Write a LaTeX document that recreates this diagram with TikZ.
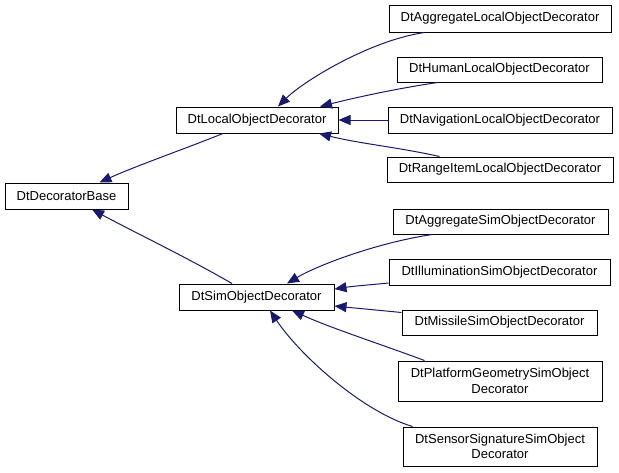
\documentclass[tikz,border=0pt]{standalone}
\usepackage{fontspec}
\setmainfont{Liberation Sans}
\usetikzlibrary{arrows.meta}
\definecolor{edgeBlue}{HTML}{191970}
\tikzset{
  klass/.style={draw=black, line width=1pt, fill=white, inner sep=0pt,
    align=center, font=\fontsize{13}{15.5}\selectfont},
  inherit/.style={edgeBlue, line width=1pt, -{Triangle[length=12pt,width=10pt]}},
}

\begin{document}
\begin{tikzpicture}[x=1pt, y=-1pt]
  \useasboundingbox (0,0) rectangle (619,472);
  % base y padres
  \node[klass, minimum width=123pt, minimum height=26pt] (base) at (66.5,196) {DtDecoratorBase};
  \node[klass, minimum width=162pt, minimum height=26pt] (local) at (257,120) {DtLocalObjectDecorator};
  \node[klass, minimum width=155pt, minimum height=26pt] (sim) at (256.5,297) {DtSimObjectDecorator};
  % hijos de local
  \node[klass, minimum width=222pt, minimum height=27pt] (aggL) at (500,18.5) {DtAggregateLocalObjectDecorator};
  \node[klass, minimum width=205pt, minimum height=25pt] (humanL) at (499.5,69.5) {DtHumanLocalObjectDecorator};
  \node[klass, minimum width=224pt, minimum height=26pt] (navL) at (500,120) {DtNavigationLocalObjectDecorator};
  \node[klass, minimum width=226pt, minimum height=25pt] (rangeL) at (500,169.5) {DtRangeItemLocalObjectDecorator};
  % hijos de sim
  \node[klass, minimum width=215pt, minimum height=25pt] (aggS) at (500.5,221.5) {DtAggregateSimObjectDecorator};
  \node[klass, minimum width=221pt, minimum height=26pt] (illS) at (499.5,272) {DtIlluminationSimObjectDecorator};
  \node[klass, minimum width=195pt, minimum height=25pt] (misS) at (499.5,322.5) {DtMissileSimObjectDecorator};
  \node[klass, minimum width=204pt, minimum height=40pt] (platS) at (500,381) {DtPlatformGeometrySimObject\\Decorator};
  \node[klass, minimum width=194pt, minimum height=39pt] (sensS) at (500,446.5) {DtSensorSignatureSimObject\\Decorator};
  % herencia
  \draw[inherit] ([xshift=-34pt]local.south) .. controls +(-40,16) and +(35,-16) .. ([xshift=33pt]base.north);
  \draw[inherit] ([xshift=-24.5pt]sim.north) .. controls +(-45,-26) and +(45,24) .. ([xshift=25.5pt]base.south);
  \draw[inherit] ([xshift=36pt]aggL.south west) .. controls +(-55,8) and +(25,-25) .. ([xshift=21pt]local.north);
  \draw[inherit] ([xshift=41pt]humanL.south west) .. controls +(-40,6) and +(40,-10) .. ([xshift=63pt]local.north);
  \draw[inherit] (navL.west) -- (local.east);
  \draw[inherit] ([xshift=53pt]rangeL.north west) .. controls +(-40,-9) and +(40,10) .. ([xshift=62pt]local.south);
  \draw[inherit] ([xshift=40pt]aggS.south west) .. controls +(-55,8) and +(30,-18) .. ([xshift=30.5pt]sim.north);
  \draw[inherit] ([yshift=-11pt]illS.west) .. controls +(-20,2) and +(20,-3) .. ([yshift=8pt]sim.east);
  \draw[inherit] ([yshift=10pt]misS.west) .. controls +(-20,-2) and +(20,2) .. ([yshift=-9pt]sim.east);
  \draw[inherit] ([xshift=27pt]platS.north west) .. controls +(-40,-15) and +(40,18) .. ([xshift=35.5pt]sim.south);
  \draw[inherit] ([xshift=10pt]sensS.north west) .. controls +(-50,-15) and +(30,45) .. ([xshift=13.5pt]sim.south);
\end{tikzpicture}
\end{document}
